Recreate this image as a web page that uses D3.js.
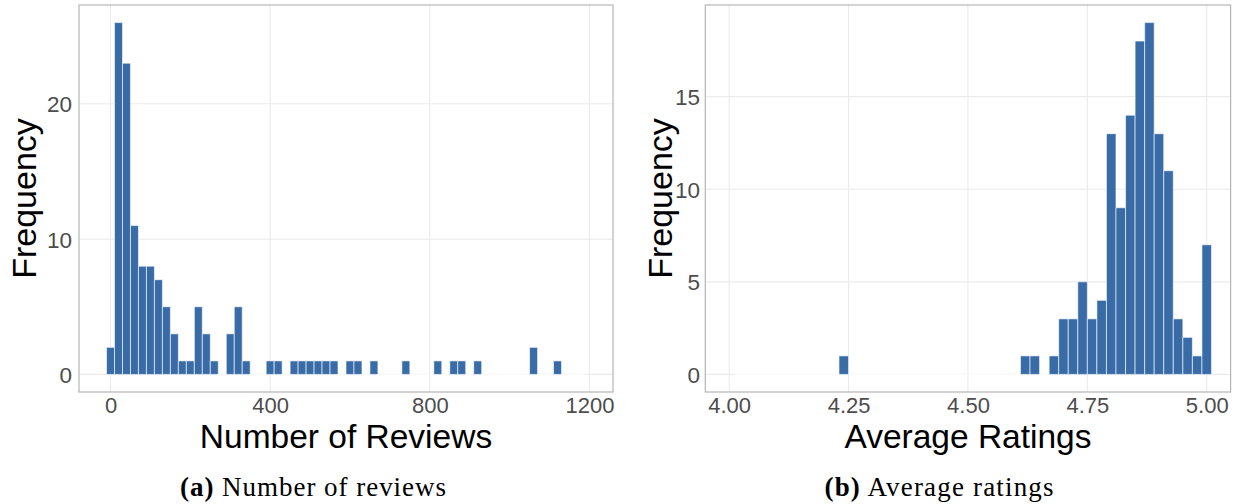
<!DOCTYPE html>
<html>
<head>
<meta charset="utf-8">
<script src="https://cdn.jsdelivr.net/npm/d3@7/dist/d3.min.js"></script>
<style>
  html, body { margin: 0; padding: 0; background: #fff; }
  svg { display: block; }
</style>
</head>
<body>
<svg id="fig" width="1244" height="504"></svg>
<script>
// Number of reviews per listing: bin centres with non-zero counts (bin width 20)
const reviewBinCenters = [0, 20, 40, 60, 80, 100, 120, 140, 160, 180, 200, 220, 240, 260,
  300, 320, 340, 400, 420, 460, 480, 500, 520, 540, 560, 600, 620, 660, 740, 820, 860, 880,
  920, 1060, 1120];
const reviewCounts = [2, 26, 23, 11, 8, 8, 7, 5, 3, 1, 1, 5, 3, 1,
  3, 5, 1, 1, 1, 1, 1, 1, 1, 1, 1, 1, 1, 1, 1, 1, 1, 1,
  1, 2, 1];
const reviewBinWidth = 20;
const reviewBinSpan = [0, 1180];          // first and last bin centre drawn
const reviewTicks = [0, 400, 800, 1200];
const reviewFreqTicks = [0, 10, 20];

// Average rating per listing: bin centres with non-zero counts (bin width 0.02)
const ratingBinCenters = [4.24, 4.62, 4.64, 4.68, 4.70, 4.72, 4.74, 4.76, 4.78, 4.80,
  4.82, 4.84, 4.86, 4.88, 4.90, 4.92, 4.94, 4.96, 4.98, 5.00];
const ratingCounts = [1, 1, 1, 1, 3, 3, 5, 3, 4, 13,
  9, 14, 18, 19, 13, 11, 3, 2, 1, 7];
const ratingBinWidth = 0.02;
const ratingBinSpan = [4.02, 5.00];
const ratingTicks = [4.00, 4.25, 4.50, 4.75, 5.00];
const ratingFreqTicks = [0, 5, 10, 15];

const svg = d3.select("#fig");
const BAR = "#396ca7";
const GRID = "#ebebeb";
const BORDER = "#b5b5b5";
const TICK_TEXT = "#4d4d4d";
const SANS = "'Liberation Sans', Arial, Helvetica, sans-serif";
const SERIF = "'Liberation Serif', 'Times New Roman', serif";

// Expand the listed non-zero bins into a full run of bins (empty bins count 0)
function fullBins(centers, counts, span, width) {
  const lookup = new Map(centers.map((c, i) => [Math.round(c / width), counts[i]]));
  const first = Math.round(span[0] / width), last = Math.round(span[1] / width);
  const bins = [];
  for (let k = first; k <= last; k++) {
    bins.push({ c: k * width, n: lookup.get(k) || 0 });
  }
  return bins;
}

function panel(opt) {
  const g = svg.append("g");
  const x = d3.scaleLinear().domain(opt.xDomain).range([opt.left, opt.right]);
  const y = d3.scaleLinear().domain(opt.yDomain).range([opt.bottom, opt.top]);

  // grid
  g.append("g").selectAll("line").data(opt.xTicks).join("line")
    .attr("x1", d => x(d)).attr("x2", d => x(d))
    .attr("y1", opt.top).attr("y2", opt.bottom)
    .attr("stroke", GRID).attr("stroke-width", 1.1);
  g.append("g").selectAll("line").data(opt.yTicks).join("line")
    .attr("x1", opt.left).attr("x2", opt.right)
    .attr("y1", d => y(d)).attr("y2", d => y(d))
    .attr("stroke", GRID).attr("stroke-width", 1.1);

  // histogram bars (empty bins still draw their white outline along zero)
  const bins = fullBins(opt.centers, opt.counts, opt.span, opt.width);
  g.append("g").selectAll("path").data(bins).join("path")
    .attr("d", d => {
      const x0 = x(d.c - opt.width / 2), x1 = x(d.c + opt.width / 2);
      const y0 = y(0), y1 = y(d.n);
      return `M${x0},${y0}H${x1}V${y1}H${x0}Z`;
    })
    .attr("fill", BAR)
    .attr("stroke", "#ffffff")
    .attr("stroke-opacity", 0.75)
    .attr("stroke-width", 0.8);

  // panel border
  g.append("rect")
    .attr("x", opt.left).attr("y", opt.top)
    .attr("width", opt.right - opt.left).attr("height", opt.bottom - opt.top)
    .attr("fill", "none").attr("stroke", BORDER).attr("stroke-width", 1.2);

  // axes (labels only, no tick marks)
  const xAxis = d3.axisBottom(x).tickValues(opt.xTicks).tickFormat(opt.xFormat).tickSize(0).tickPadding(0);
  const ax = g.append("g").attr("transform", `translate(0,${opt.bottom})`).call(xAxis);
  ax.select(".domain").remove();
  ax.selectAll("text")
    .attr("dy", null)
    .attr("y", 413 - opt.bottom)
    .attr("fill", TICK_TEXT)
    .style("font-family", SANS).style("font-size", "22px");

  const yAxis = d3.axisLeft(y).tickValues(opt.yTicks).tickFormat(d3.format("d")).tickSize(0).tickPadding(0);
  const ay = g.append("g").attr("transform", `translate(${opt.yLabelX},0)`).call(yAxis);
  ay.select(".domain").remove();
  ay.selectAll("text")
    .attr("x", 0).attr("dy", "0.36em")
    .attr("fill", TICK_TEXT)
    .style("font-family", SANS).style("font-size", "22.5px");

  // axis titles
  g.append("text")
    .attr("x", (opt.left + opt.right) / 2).attr("y", 448)
    .attr("text-anchor", "middle")
    .style("font-family", SANS).style("font-size", "33.5px").attr("fill", "#000")
    .text(opt.xTitle);
  g.append("text")
    .attr("transform", `translate(${opt.yTitleX},${(opt.top + opt.bottom) / 2}) rotate(-90)`)
    .attr("text-anchor", "middle")
    .style("font-family", SANS).style("font-size", "34px").attr("fill", "#000")
    .text("Frequency");

  // sub-figure caption
  const cap = svg.append("text")
    .attr("x", opt.capX).attr("y", 496)
    .attr("text-anchor", "middle")
    .attr("textLength", opt.capWidth).attr("lengthAdjust", "spacing")
    .style("font-family", SERIF).style("font-size", "27px").attr("fill", "#000");
  cap.append("tspan").attr("font-weight", "bold").text(opt.capTag);
  cap.append("tspan").text(" " + opt.capText);
}

panel({
  left: 79, right: 613, top: 5, bottom: 392,
  xDomain: [-79, 1259], yDomain: [-1.3, 27.3],
  xTicks: reviewTicks, yTicks: reviewFreqTicks, xFormat: d3.format("d"),
  centers: reviewBinCenters, counts: reviewCounts, span: reviewBinSpan, width: reviewBinWidth,
  yLabelX: 72, yTitleX: 36,
  xTitle: "Number of Reviews",
  capX: 313, capWidth: 266, capTag: "(a)", capText: "Number of reviews"
});

panel({
  left: 705.3, right: 1230.6, top: 5, bottom: 392,
  xDomain: [3.95, 5.05], yDomain: [-0.95, 19.95],
  xTicks: ratingTicks, yTicks: ratingFreqTicks, xFormat: d3.format(".2f"),
  centers: ratingBinCenters, counts: ratingCounts, span: ratingBinSpan, width: ratingBinWidth,
  yLabelX: 700, yTitleX: 672,
  xTitle: "Average Ratings",
  capX: 939, capWidth: 229, capTag: "(b)", capText: "Average ratings"
});
</script>
</body>
</html>
